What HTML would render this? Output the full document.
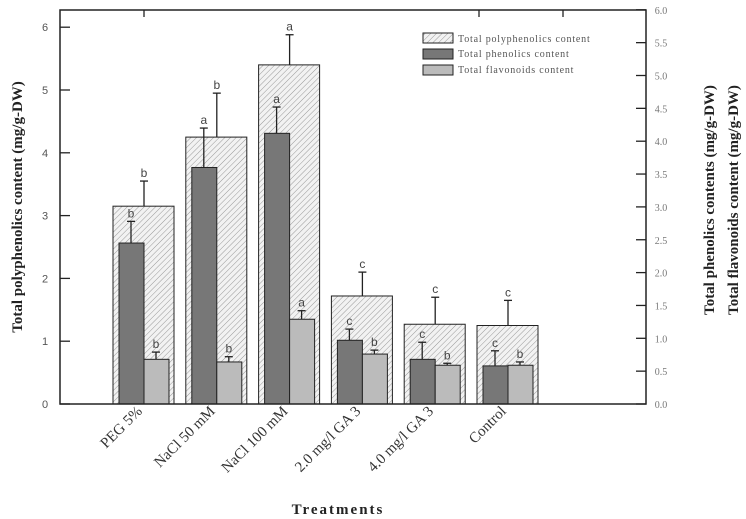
<!DOCTYPE html>
<html><head><meta charset="utf-8"><style>
body{margin:0;background:#fff}
svg{display:block}
</style></head><body>
<svg id="c" width="746" height="519" viewBox="0 0 746 519" xmlns="http://www.w3.org/2000/svg">
<defs>
<pattern id="hatch" width="4" height="4" patternUnits="userSpaceOnUse" patternTransform="rotate(45)">
<rect width="4" height="4" fill="#f2f2f2"/><line x1="0" y1="0" x2="0" y2="4" stroke="#999" stroke-width="1"/>
</pattern>
</defs>
<g id="marks"></g>
<rect x="60" y="10" width="586" height="394" fill="none" stroke="#222" stroke-width="1.5"/>
<text x="0" y="0" transform="translate(22,207) rotate(-90)" text-anchor="middle" font-family="Liberation Serif, serif" font-weight="bold" font-size="15" fill="#222">Total polyphenolics content (mg/g-DW)</text>
<text x="0" y="0" transform="translate(714,200) rotate(-90)" text-anchor="middle" font-family="Liberation Serif, serif" font-weight="bold" font-size="15" fill="#222">Total phenolics contents (mg/g-DW)</text>
<text x="0" y="0" transform="translate(738,200) rotate(-90)" text-anchor="middle" font-family="Liberation Serif, serif" font-weight="bold" font-size="15" fill="#222">Total flavonoids content (mg/g-DW)</text>
<text x="338" y="514" text-anchor="middle" font-family="Liberation Serif, serif" font-weight="bold" font-size="15" letter-spacing="2" fill="#222">Treatments</text>
<g font-family="Liberation Serif, serif" font-size="10" fill="#555">
<rect x="423" y="33" width="30" height="10" fill="url(#hatch)" stroke="#222"/>
<text x="458" y="42" letter-spacing="0.8">Total polyphenolics content</text>
<rect x="423" y="49" width="30" height="10" fill="#777" stroke="#222"/>
<text x="458" y="57" letter-spacing="0.8">Total phenolics content</text>
<rect x="423" y="65" width="30" height="10" fill="#bbb" stroke="#222"/>
<text x="458" y="73" letter-spacing="0.8">Total flavonoids content</text>
</g>
</svg>
<script>
const categories = ["PEG 5%", "NaCl 50 mM", "NaCl 100 mM", "2.0 mg/l GA 3", "4.0 mg/l GA 3", "Control"];
const polyValues = [3.15, 4.25, 5.4, 1.72, 1.27, 1.25];
const polyErrors = [0.4, 0.7, 0.48, 0.38, 0.43, 0.4];
const polyLetters = ["b", "b", "a", "c", "c", "c"];
const phenValues = [2.45, 3.6, 4.12, 0.97, 0.68, 0.58];
const phenErrors = [0.33, 0.6, 0.4, 0.17, 0.26, 0.23];
const phenLetters = ["b", "a", "a", "c", "c", "c"];
const flavValues = [0.68, 0.64, 1.29, 0.76, 0.59, 0.59];
const flavErrors = [0.11, 0.08, 0.13, 0.06, 0.03, 0.05];
const flavLetters = ["b", "b", "a", "b", "b", "b"];
const leftTicks = [0, 1, 2, 3, 4, 5, 6];
const rightTicks = [0, 0.5, 1, 1.5, 2, 2.5, 3, 3.5, 4, 4.5, 5, 5.5, 6];

const NS = "http://www.w3.org/2000/svg";
const svg = document.getElementById("c");
const g = document.getElementById("marks");
const y0 = 404;
const yL = v => y0 - v * 62.8;
const yR = v => y0 - v * 65.7;
const gx = i => 113 + i * 72.8;
function mk(tag, attrs, parent) {
  const e = document.createElementNS(NS, tag);
  for (const k in attrs) e.setAttribute(k, attrs[k]);
  (parent || g).appendChild(e);
  return e;
}
function errBar(cx, top, err, yf, letter) {
  const yt = yf(top + err);
  const l = mk("line", {x1: cx, x2: cx, y1: yf(top), y2: yt, stroke: "#222", "stroke-width": 1.3});
  
  
  const c = mk("line", {x1: cx - 4, x2: cx + 4, y1: yt, y2: yt, stroke: "#222", "stroke-width": 1.3});
  
  
  const t = mk("text", {x: cx, y: yt - 4, "text-anchor": "middle", "font-family": "Liberation Sans, sans-serif", "font-size": 12, fill: "#444"});
  t.textContent = letter;
  
  
}
categories.forEach((cat, i) => {
  const x = gx(i);
  const p = mk("rect", {x: x, y: yL(polyValues[i]), width: 61, height: y0 - yL(polyValues[i]), fill: "url(#hatch)", stroke: "#222", "stroke-width": 1});
  
  
  const d = mk("rect", {x: x + 6, y: yR(phenValues[i]), width: 25, height: y0 - yR(phenValues[i]), fill: "#777", stroke: "#222", "stroke-width": 1});
  
  
  const f = mk("rect", {x: x + 31, y: yR(flavValues[i]), width: 25, height: y0 - yR(flavValues[i]), fill: "#bbb", stroke: "#222", "stroke-width": 1});
  
  
  errBar(x + 31, polyValues[i], polyErrors[i], yL, polyLetters[i]);
  errBar(x + 18, phenValues[i], phenErrors[i], yR, phenLetters[i]);
  errBar(x + 43, flavValues[i], flavErrors[i], yR, flavLetters[i]);
  const lx = x + 30, ly = 412;
  const t = mk("text", {x: lx, y: ly, "text-anchor": "end", transform: `rotate(-45 ${lx} ${ly})`, "font-family": "Liberation Serif, serif", "font-size": 15, fill: "#333"});
  t.textContent = cat;
  
  
});
leftTicks.forEach(v => {
  const y = yL(v);
  const l = mk("line", {x1: 60, x2: 70, y1: y, y2: y, stroke: "#222", "stroke-width": 1.3}, svg);
  
  
  const t = mk("text", {x: 45, y: y + 4, "text-anchor": "middle", "font-family": "Liberation Sans, sans-serif", "font-size": 11, fill: "#555"}, svg);
  t.textContent = v;
  
  
});
rightTicks.forEach(v => {
  const y = yR(v);
  const l = mk("line", {x1: 636, x2: 646, y1: y, y2: y, stroke: "#222", "stroke-width": 1.3}, svg);
  
  
  const t = mk("text", {x: 661, y: y + 4, "text-anchor": "middle", "font-family": "Liberation Serif, serif", "font-size": 10, fill: "#777"}, svg);
  t.textContent = v.toFixed(1);
  
  
});
[144, 479, 563].forEach(x => {
  const l = mk("line", {x1: x, x2: x, y1: 10, y2: 17, stroke: "#222", "stroke-width": 1.3}, svg);
  
  
});
</script>
</body></html>
